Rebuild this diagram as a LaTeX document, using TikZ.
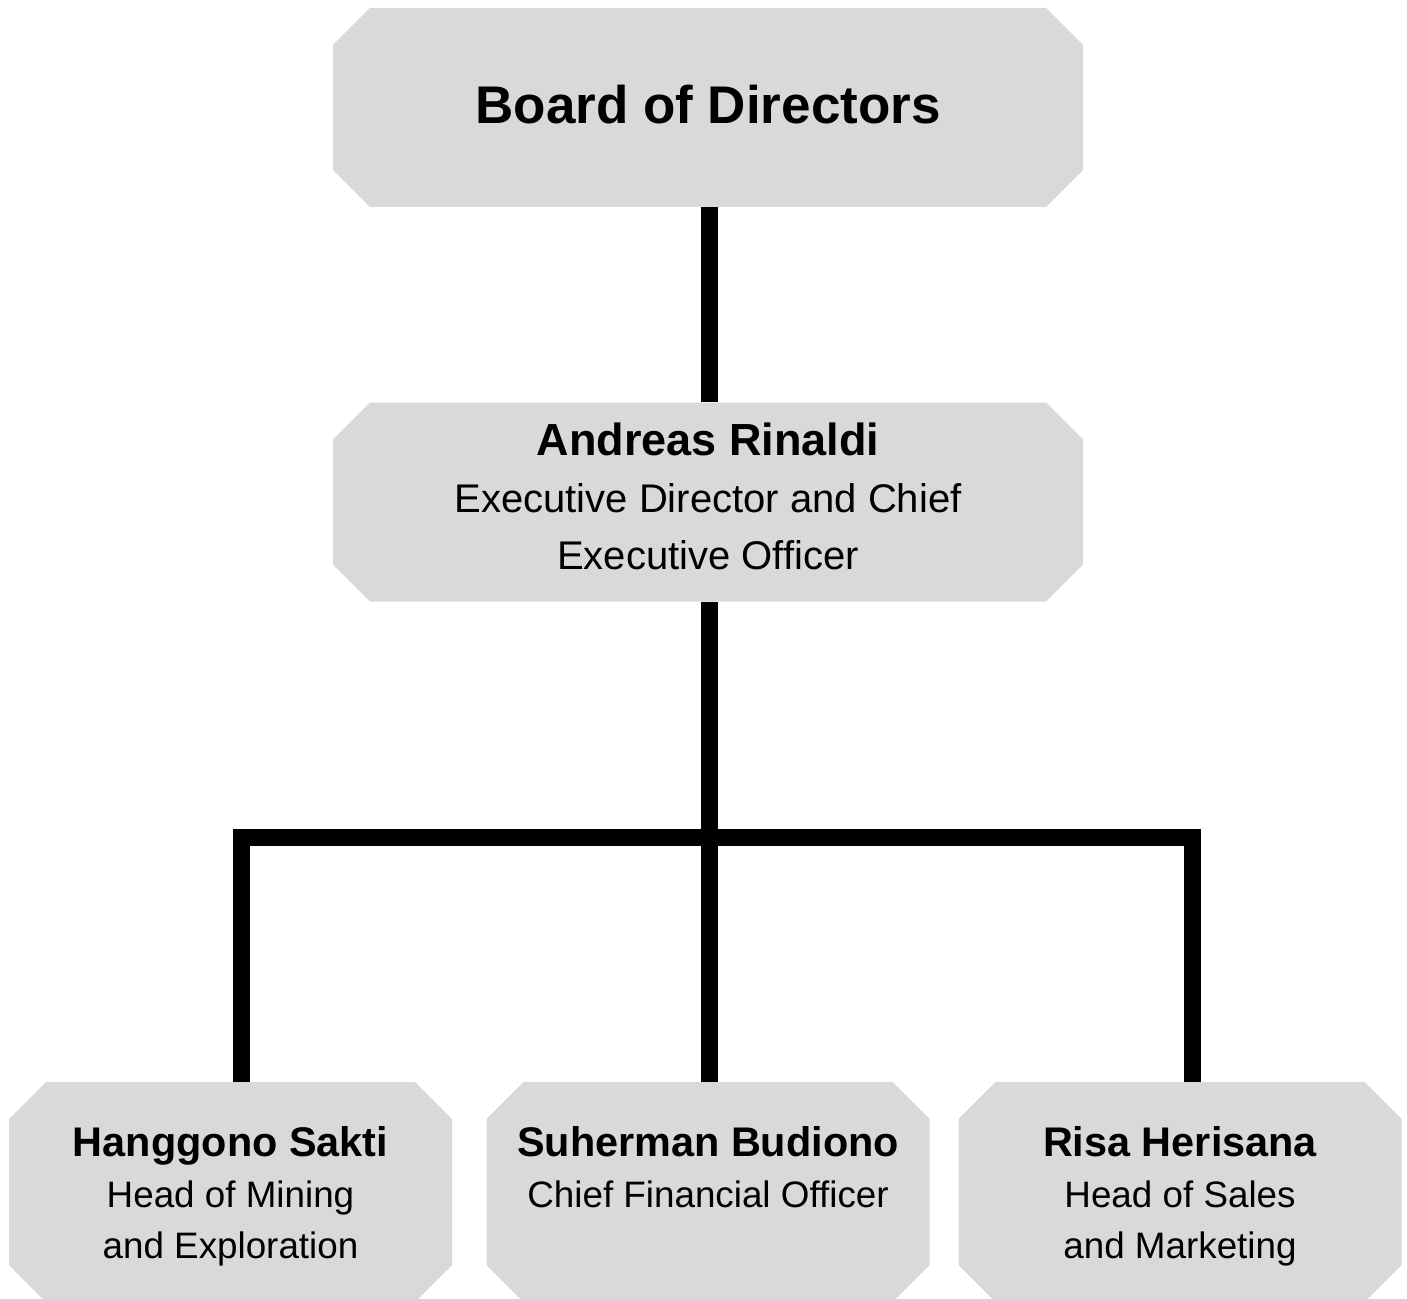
\documentclass[tikz,border=0pt]{standalone}
\usepackage{fontspec}
\setmainfont{Liberation Sans}
\usepackage{xcolor}
\usetikzlibrary{positioning,calc}
\definecolor{boxgray}{HTML}{D9D9D9}

\begin{document}
\begin{tikzpicture}[x=0.5pt,y=-0.5pt,
    post/.style={rectangle, fill=white, draw=none, inner sep=0pt, align=center,
        path picture={\fill[boxgray]
            ([xshift=18.5pt]path picture bounding box.north west) -- ([xshift=-18.5pt]path picture bounding box.north east)
            -- ([yshift=-18.5pt]path picture bounding box.north east) -- ([yshift=18.5pt]path picture bounding box.south east)
            -- ([xshift=-18.5pt]path picture bounding box.south east) -- ([xshift=18.5pt]path picture bounding box.south west)
            -- ([yshift=18.5pt]path picture bounding box.south west) -- ([yshift=-18.5pt]path picture bounding box.north west) -- cycle;}},
    toppost/.style={post, minimum width=375pt, minimum height=99.5pt, font=\fontsize{20}{28.5}\selectfont},
    headpost/.style={post, minimum width=221.5pt, minimum height=110pt, font=\fontsize{18.4}{25.5}\selectfont},
    link/.style={line width=8.5pt, black, line join=miter}]
    \useasboundingbox (0,0) rectangle (1407,1299);
    \node [toppost] (board) at (708,107.5) {{\fontsize{26.5}{30}\selectfont\bfseries Board of Directors}\rule[-3pt]{0pt}{3pt}};
    \node [toppost] (ceo) at (708,502) {
        {\fontsize{22.5}{28.5}\selectfont\bfseries Andreas Rinaldi} \\
        Executive Director and Chief \\
        Executive Officer\rule[-6pt]{0pt}{6pt}
    };
    \node [headpost] (mining) at (230.5,1192) {
        {\fontsize{20.7}{25.5}\selectfont\bfseries Hanggono Sakti}\rule{0pt}{19pt} \\
        Head of Mining \\
        and Exploration
    };
    \node [headpost] (cfo) at (708,1192) {
        {\fontsize{20.7}{25.5}\selectfont\bfseries Suherman Budiono}\rule{0pt}{19pt} \\
        Chief Financial Officer \\
        \vphantom{and Exploration}
    };
    \node [headpost] (sales) at (1180,1192) {
        {\fontsize{20.7}{25.5}\selectfont\bfseries Risa Herisana}\rule{0pt}{19pt} \\
        Head of Sales \\
        and Marketing
    };
    \coordinate (bus) at (709,837.5);
    % connectors
    \draw [link] ([xshift=0.5pt]board.south) -- ([xshift=0.5pt]ceo.north);
    \draw [link] ([xshift=0.5pt]ceo.south) -- ([xshift=0.5pt]cfo.north);
    \draw [link] ([xshift=5.25pt]mining.north) |- (bus) -| ([xshift=6pt]sales.north);
\end{tikzpicture}
\end{document}
